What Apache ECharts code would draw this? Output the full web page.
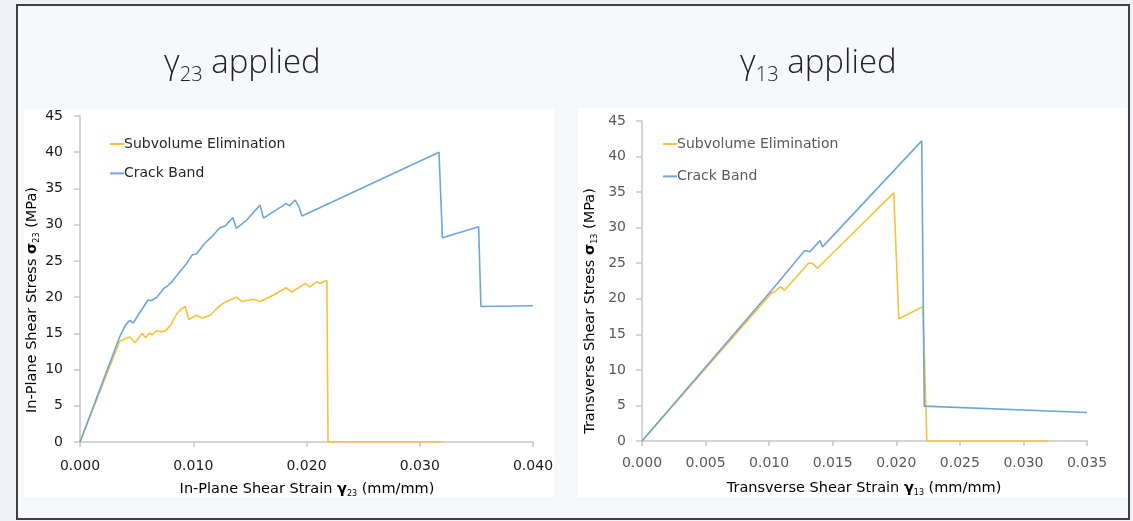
<!DOCTYPE html>
<html>
<head>
<meta charset="utf-8">
<script src="https://cdn.jsdelivr.net/npm/echarts@6/dist/echarts.min.js"></script>
<style>
  html, body { margin: 0; padding: 0; background: #eff1f6; }
  #frame { position: absolute; left: 16px; top: 4px; width: 1114px; height: 516px;
           box-sizing: border-box; border: 2px solid #404040; background: #f7f8fc; }
  .panel { position: absolute; background: #ffffff; }
  #chart { position: absolute; left: 0; top: 0; width: 1133px; height: 521px; }
</style>
</head>
<body>
<div id="frame"></div>
<div class="panel" style="left:24px;top:109px;width:530px;height:388px;"></div>
<div class="panel" style="left:578px;top:108px;width:549px;height:389px;"></div>
<div id="chart"></div>
<script>
// In-plane shear (gamma23 applied): strain (mm/mm) and stress (MPa)
const inPlaneSubStrain = [0, 0.0035, 0.0038, 0.0044, 0.00485, 0.0055, 0.0058, 0.0061, 0.0064, 0.0068,
  0.0071, 0.0075, 0.0080, 0.0085, 0.0089, 0.0093, 0.0096, 0.0103, 0.0108, 0.0115, 0.0122, 0.0128,
  0.0138, 0.0143, 0.0153, 0.0159, 0.0171, 0.0182, 0.0187, 0.0199, 0.0203, 0.0209, 0.0212, 0.0218,
  0.0219, 0.0320];
const inPlaneSubStress = [0, 13.9, 14.1, 14.5, 13.7, 15.0, 14.4, 15.0, 14.8, 15.4,
  15.2, 15.3, 16.1, 17.6, 18.3, 18.7, 16.9, 17.5, 17.1, 17.5, 18.6, 19.3,
  20.0, 19.4, 19.7, 19.4, 20.3, 21.3, 20.7, 21.9, 21.4, 22.1, 21.9, 22.3,
  0, 0];

const inPlaneBandStrain = [0, 0.0035, 0.0040, 0.0044, 0.0047, 0.0052, 0.0056, 0.0060, 0.0063, 0.0068,
  0.0074, 0.0077, 0.0081, 0.0087, 0.0094, 0.0099, 0.0103, 0.0110, 0.0118, 0.0123, 0.0128, 0.0135,
  0.0138, 0.0147, 0.0159, 0.0162, 0.0171, 0.0182, 0.0185, 0.0190, 0.0193, 0.0196, 0.0317, 0.0320,
  0.0352, 0.0354, 0.0400];
const inPlaneBandStress = [0, 14.5, 16.1, 16.8, 16.4, 17.7, 18.6, 19.6, 19.5, 20.0,
  21.2, 21.5, 22.1, 23.3, 24.6, 25.8, 26.0, 27.4, 28.6, 29.5, 29.8, 31.0,
  29.5, 30.6, 32.7, 30.9, 31.8, 32.9, 32.6, 33.4, 32.6, 31.2, 40.0, 28.2,
  29.7, 18.7, 18.8];

// Transverse shear (gamma13 applied)
const transSubStrain = [0, 0.0102, 0.0105, 0.0109, 0.0112, 0.0131, 0.0134, 0.0138, 0.0198, 0.0202,
  0.0221, 0.0224, 0.0320];
const transSubStress = [0, 20.8, 21.1, 21.7, 21.2, 25.0, 25.0, 24.3, 34.9, 17.2,
  18.9, 0, 0];

const transBandStrain = [0, 0.0102, 0.0128, 0.0132, 0.0140, 0.0142, 0.0220, 0.0222, 0.0350];
const transBandStress = [0, 21.2, 26.8, 26.6, 28.2, 27.3, 42.2, 4.9, 4.0];

const seriesNames = ['Subvolume Elimination', 'Crack Band'];
const inPlaneStrainTicks = { min: 0, max: 0.040, interval: 0.010 };
const transStrainTicks = { min: 0, max: 0.035, interval: 0.005 };
const stressTicks = { min: 0, max: 45, interval: 5 };

const FONT = 'DejaVu Sans';
const YELLOW = '#f7c13a';
const BLUE = '#6ea6db';
const AXIS_GRAY = '#c6c6c6';

function pairs(xs, ys) { return xs.map((x, i) => [x, ys[i]]); }

function xAxisFor(gridIndex, ticks, labelColor, margin) {
  return {
    type: 'value', gridIndex, min: ticks.min, max: ticks.max, interval: ticks.interval,
    axisLine: { show: true, lineStyle: { color: AXIS_GRAY, width: 1.5 } },
    axisTick: { show: true, length: 5, lineStyle: { color: AXIS_GRAY, width: 1.5 } },
    splitLine: { show: false },
    axisLabel: { color: labelColor, fontFamily: FONT, fontSize: 14, margin,
                 formatter: v => v.toFixed(3) }
  };
}
function yAxisFor(gridIndex, labelColor, margin) {
  return {
    type: 'value', gridIndex, min: stressTicks.min, max: stressTicks.max, interval: stressTicks.interval,
    axisLine: { show: true, lineStyle: { color: AXIS_GRAY, width: 1.5 } },
    axisTick: { show: true, length: 6, lineStyle: { color: AXIS_GRAY, width: 1.5 } },
    splitLine: { show: false },
    axisLabel: { color: labelColor, fontFamily: FONT, fontSize: 14, margin }
  };
}
function lineSeries(name, color, data, idx) {
  return {
    name, type: 'line', xAxisIndex: idx, yAxisIndex: idx, data,
    showSymbol: false, symbol: 'none', lineStyle: { color, width: 1.6 }, itemStyle: { color },
    emphasis: { disabled: true }
  };
}
function nameRich(color) {
  return {
    n: { fontFamily: FONT, fontSize: 14.5, color, lineHeight: 18 },
    b: { fontFamily: FONT, fontSize: 14.5, fontWeight: 'bold', color: '#111', lineHeight: 18 },
    s: { fontFamily: FONT, fontSize: 8, color, lineHeight: 12, verticalAlign: 'bottom' }
  };
}
function axisName(text, x, y, rotated, color) {
  return {
    type: 'text', x, y, rotation: rotated ? Math.PI / 2 : 0,
    style: { text, rich: nameRich(color), align: 'center', verticalAlign: 'middle' }
  };
}
const titleRich = {
  g: { fontFamily: 'Open Sans', fontSize: 33, fontWeight: 300, color: '#222', lineHeight: 42 },
  s: { fontFamily: 'Open Sans', fontSize: 20, fontWeight: 300, color: '#222', lineHeight: 32, verticalAlign: 'bottom' },
  t: { fontFamily: 'Open Sans', fontSize: 33, fontWeight: 300, color: '#222', lineHeight: 42 }
};

const chart = echarts.init(document.getElementById('chart'), null, { renderer: 'canvas' });
chart.setOption({
  animation: false,
  backgroundColor: 'transparent',
  title: [
    { text: '{g|γ}{s|23}{t| applied}', left: 159, top: 38, textStyle: { rich: titleRich } },
    { text: '{g|γ}{s|13}{t| applied}', left: 735, top: 38, textStyle: { rich: titleRich } }
  ],
  legend: [
    { data: seriesNames, orient: 'vertical', left: 105, top: 131, icon: 'rect',
      itemWidth: 14, itemHeight: 2, itemGap: 13.4, selectedMode: false,
      textStyle: { fontFamily: FONT, fontSize: 14, color: '#262626', lineHeight: 16, padding: [0, 0, 0, -5] } },
    { data: seriesNames, orient: 'vertical', left: 658, top: 131, icon: 'rect',
      itemWidth: 14, itemHeight: 2, itemGap: 16.4, selectedMode: false,
      textStyle: { fontFamily: FONT, fontSize: 14, color: '#595959', lineHeight: 16, padding: [0, 0, 0, -5] } }
  ],
  grid: [
    { left: 80, top: 116, width: 453, height: 326 },
    { left: 642, top: 121, width: 445, height: 320 }
  ],
  xAxis: [
    xAxisFor(0, inPlaneStrainTicks, '#1a1a1a', 17),
    xAxisFor(1, transStrainTicks, '#595959', 15)
  ],
  yAxis: [
    yAxisFor(0, '#1a1a1a', 17),
    yAxisFor(1, '#595959', 16)
  ],
  series: [
    lineSeries(seriesNames[0], YELLOW, pairs(inPlaneSubStrain, inPlaneSubStress), 0),
    lineSeries(seriesNames[1], BLUE, pairs(inPlaneBandStrain, inPlaneBandStress), 0),
    lineSeries(seriesNames[0], YELLOW, pairs(transSubStrain, transSubStress), 1),
    lineSeries(seriesNames[1], BLUE, pairs(transBandStrain, transBandStress), 1)
  ],
  graphic: [
    axisName('{n|In-Plane Shear Stress }{b|σ}{s|23}{n| (MPa)}', 32, 300, true, '#1a1a1a'),
    axisName('{n|In-Plane Shear Strain }{b|γ}{s|23}{n| (mm/mm)}', 307, 489, false, '#1a1a1a'),
    axisName('{n|Transverse Shear Stress }{b|σ}{s|13}{n| (MPa)}', 590, 311, true, '#404040'),
    axisName('{n|Transverse Shear Strain }{b|γ}{s|13}{n| (mm/mm)}', 864, 488, false, '#404040')
  ]
});
</script>
</body>
</html>
